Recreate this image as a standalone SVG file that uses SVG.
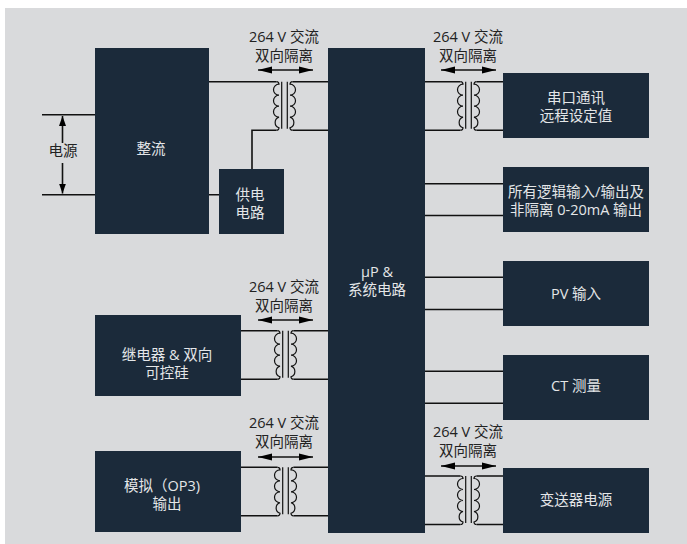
<svg xmlns="http://www.w3.org/2000/svg" width="687" height="544" viewBox="0 0 687 544">
<style>
text{font-family:"Open Sans","Noto Sans CJK SC",sans-serif;font-size:14.500px;text-anchor:middle}
.n{fill:#1b2a3a}
.w{fill:#e4e6e8}
.k{fill:#222}
.l{fill:none;stroke:#111;stroke-width:1.6}
.t{fill:none;stroke:#111;stroke-width:1.2}
</style>
<defs>
<marker id="ah" markerWidth="14" markerHeight="8" refX="14" refY="4" orient="auto-start-reverse" markerUnits="userSpaceOnUse"><path d="M0 .5L14 4L0 7.500Z" fill="#000"/></marker>
<marker id="av" markerWidth="10" markerHeight="7" refX="10" refY="3.500" orient="auto" markerUnits="userSpaceOnUse"><path d="M0 0L10 3.500L0 7Z" fill="#000"/></marker>
<g id="tf">
<path class="t" d="M-8 0Q-5.500 0-5.500 2.500A5.500 5.500 0 0 0-5.500 13.500A5.500 5.500 0 0 0-5.500 24.500A5.500 5.500 0 0 0-5.500 35.500A5.500 5.500 0 0 0-5.500 46Q-5.500 48.500-8 48.500"/>
<path class="t" d="M8 0Q5.500 0 5.500 2.500A5.500 5.500 0 0 1 5.500 13.500A5.500 5.500 0 0 1 5.500 24.500A5.500 5.500 0 0 1 5.500 35.500A5.500 5.500 0 0 1 5.500 46Q5.500 48.500 8 48.500"/>
<path class="t" d="M-2.800 0V47M2.800 0V47"/>
</g>
</defs>
<rect x="5" y="8" width="682" height="536" fill="#d9dadc"/>
<g id="connectors">
<path class="l" d="M42 114.800H95M42 194.800H95"/>
<path class="l" d="M62.500 143V116" marker-end="url(#av)"/>
<path class="l" d="M62.500 163V193.500" marker-end="url(#av)"/>
<path class="l" d="M209 81.700H276.500M292.500 81.700H328M252 169V130.200H276.500M292.500 130.200H328M209 194.800H219"/>
<path class="l" d="M425 81.700H460.500M476.500 81.700H503M425 130.200H460.500M476.500 130.200H503"/>
<path class="l" d="M425 183.700H503M425 215.500H503M425 277.200H503M425 309.500H503M425 371.200H503M425 403.200H503"/>
<path class="l" d="M241 330.700H277.500M293.500 330.700H328M241 379.200H277.500M293.500 379.200H328"/>
<path class="l" d="M241 467.300H277.500M293.500 467.300H328M241 515.800H277.500M293.500 515.800H328"/>
<path class="l" d="M425 476H460.500M476.500 476H503M425 524.500H460.500M476.500 524.500H503"/>
<use href="#tf" x="284.500" y="81.700"/>
<use href="#tf" x="468.500" y="81.700"/>
<use href="#tf" x="285.500" y="330.700"/>
<use href="#tf" x="285.500" y="467.300"/>
<use href="#tf" x="468.500" y="476"/>
<path class="l" d="M258 70H313" marker-start="url(#ah)" marker-end="url(#ah)"/>
<path class="l" d="M441 70H496" marker-start="url(#ah)" marker-end="url(#ah)"/>
<path class="l" d="M258 320H313" marker-start="url(#ah)" marker-end="url(#ah)"/>
<path class="l" d="M258 457H313" marker-start="url(#ah)" marker-end="url(#ah)"/>
<path class="l" d="M441 466H496" marker-start="url(#ah)" marker-end="url(#ah)"/>
</g>
<g id="label-power"><text class="k" x="63" y="156">电源</text></g>
<g id="iso-1"><text class="k" x="284" y="42">264 V 交流</text><text class="k" x="284" y="61">双向隔离</text></g>
<g id="iso-2"><text class="k" x="468" y="42">264 V 交流</text><text class="k" x="468" y="61">双向隔离</text></g>
<g id="iso-3"><text class="k" x="284" y="292">264 V 交流</text><text class="k" x="284" y="311">双向隔离</text></g>
<g id="iso-4"><text class="k" x="284" y="428">264 V 交流</text><text class="k" x="284" y="447">双向隔离</text></g>
<g id="iso-5"><text class="k" x="468" y="437">264 V 交流</text><text class="k" x="468" y="456">双向隔离</text></g>
<g id="rectifier"><rect class="n" x="95" y="48" width="114" height="186"/><text class="w" x="151" y="154">整流</text></g>
<g id="supply"><rect class="n" x="219" y="169" width="65" height="65"/><text class="w" x="250" y="200">供电</text><text class="w" x="250" y="218">电路</text></g>
<g id="cpu"><rect class="n" x="328" y="48" width="97" height="485"/><text class="w" x="377" y="277">µP &amp;</text><text class="w" x="377" y="295">系统电路</text></g>
<g id="serial"><rect class="n" x="503" y="73" width="146" height="65"/><text class="w" x="576" y="103">串口通讯</text><text class="w" x="576" y="121">远程设定值</text></g>
<g id="logic"><rect class="n" x="503" y="167" width="146" height="65"/><text class="w" x="576" y="197">所有逻辑输入/输出及</text><text class="w" x="576" y="215">非隔离 0-20mA 输出</text></g>
<g id="pv"><rect class="n" x="503" y="261" width="146" height="65"/><text class="w" x="576" y="299">PV 输入</text></g>
<g id="ct"><rect class="n" x="503" y="355" width="146" height="65"/><text class="w" x="576" y="391">CT 测量</text></g>
<g id="transmitter"><rect class="n" x="503" y="468" width="146" height="65"/><text class="w" x="576" y="505">变送器电源</text></g>
<g id="relay"><rect class="n" x="95" y="315" width="146" height="81"/><text class="w" x="167" y="360">继电器 &amp; 双向</text><text class="w" x="167" y="378">可控硅</text></g>
<g id="analog"><rect class="n" x="95" y="451" width="146" height="81"/><text class="w" x="162" y="491">模拟（OP3)</text><text class="w" x="167" y="509">输出</text></g>
</svg>
